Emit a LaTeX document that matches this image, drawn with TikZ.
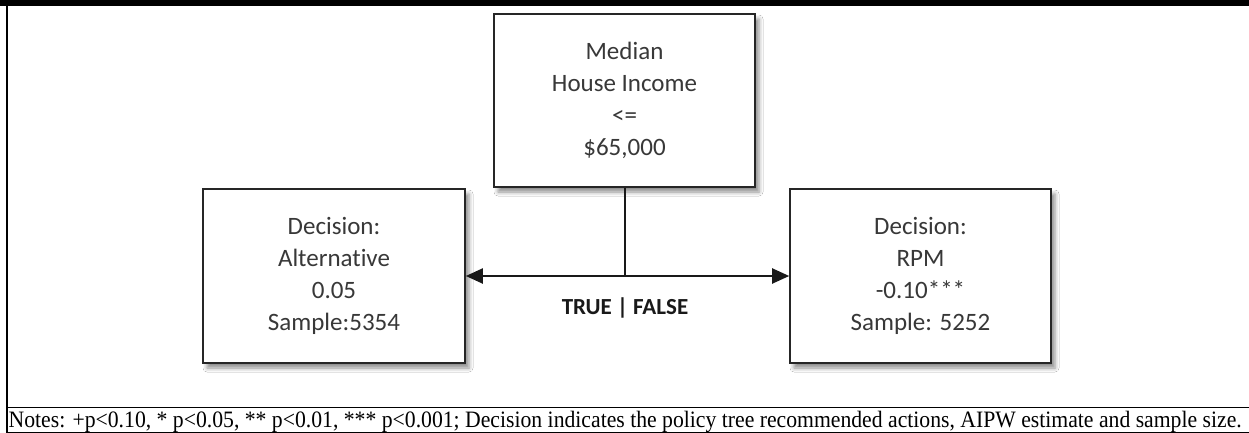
\documentclass[tikz,border=0pt]{standalone}
\usepackage{fontspec}
\setmainfont{Liberation Serif}
\newfontfamily\boxfont[Ligatures={NoCommon}]{Carlito}
\usetikzlibrary{arrows.meta,shadows.blur}

\tikzset{
  treebox/.style={draw=black!85, line width=1.6pt, fill=white,
    minimum width=261pt, minimum height=174pt, inner sep=0pt,
    align=center, text=black!78,
    font=\boxfont\fontsize{25}{32}\selectfont,
    blur shadow={shadow xshift=4pt, shadow yshift=-5pt,
      shadow blur radius=4pt, shadow opacity=45}},
  branch/.style={line width=2pt, draw=black!90,
    -{Triangle[length=17pt,width=15pt]}},
  stem/.style={line width=2pt, draw=black!90},
  rule/.style={line width=1.4pt, draw=black},
}

\begin{document}
\begin{tikzpicture}[x=1pt, y=-1pt]
  \useasboundingbox (0,0) rectangle (1249,433);
  \fill[white] (0,0) rectangle (1249,433);

  % caption band and frame
  \fill[black] (0,0) rectangle (1249,6.5);
  \draw[rule] (7,6) -- (7,433);
  \draw[rule] (7,407.3) -- (1249,407.3);
  \draw[line width=1pt] (7,432.5) -- (1249,432.5);

  % policy tree
  \node[treebox, minimum height=173pt] (split) at (624.5,100.5)
    {Median\\House Income\\<=\\\$65,000};
  \node[treebox, minimum width=262pt] (alt) at (334,276)
    {Decision:\\Alternative\\0.05\\Sample:5354};
  \node[treebox] (rpm) at (920.5,276)
    {Decision:\\RPM\\-0.10***\\Sample: 5252};

  \coordinate (fork) at (split.south |- alt.east);
  \draw[stem] (split.south) -- (fork);
  \draw[branch] (fork) -- (alt.east);
  \draw[branch] (fork) -- (rpm.west);

  \node[font=\boxfont\bfseries\fontsize{23}{28}\selectfont, text=black!90,
    anchor=base] (lbl) at (625,314) {TRUE | FALSE};

  % notes line
  \node[anchor=base west, inner sep=0pt] (notes) at (8.5,427.5)
    {\resizebox{1233pt}{\height}{\fontsize{23.5}{26}\selectfont Notes: +p<0.10, * p<0.05, ** p<0.01, *** p<0.001; Decision indicates the policy tree recommended actions, AIPW estimate and sample size.}};
\end{tikzpicture}
\end{document}
